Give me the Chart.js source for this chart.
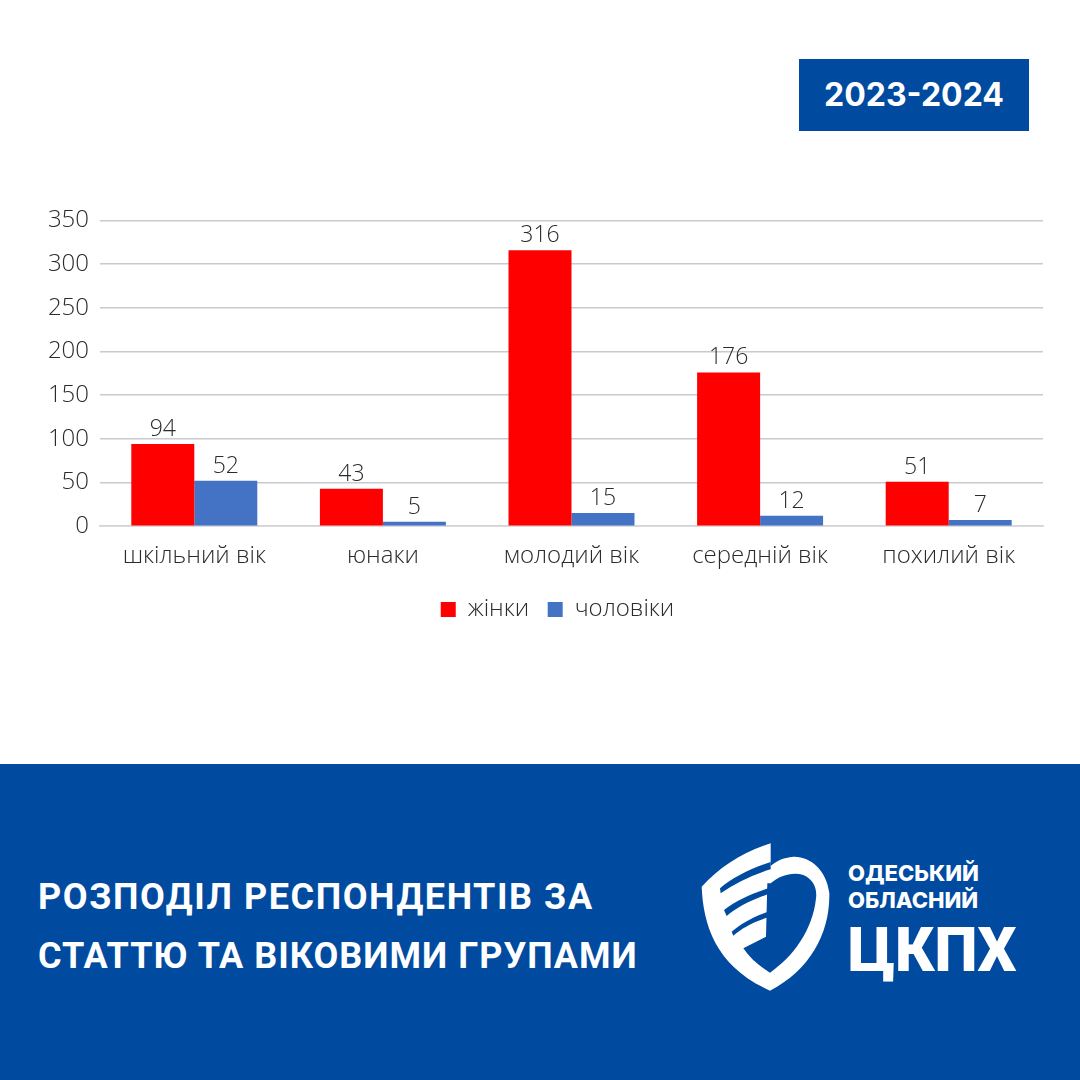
<!DOCTYPE html>
<html lang="uk">
<head>
<meta charset="utf-8">
<script src="https://cdn.jsdelivr.net/npm/chart.js@4"></script>
<style>
html,body{margin:0;padding:0;background:#fff}
#stage{position:relative;width:1080px;height:1080px;overflow:hidden;background:#fff}
#badge{position:absolute;left:799px;top:59px;width:230px;height:72px;background:#004a9f;color:#fff;font:700 32px/72px Inter,Roboto,sans-serif;text-align:center}
#wrap{position:absolute;left:0;top:190px;width:1080px;height:450px}
#footer{position:absolute;left:0;top:764px;width:1080px;height:316px;background:#004a9f}
#title{position:absolute;left:38px;top:104px;color:#fff;font:700 36px/59px Roboto,sans-serif;white-space:nowrap}
#title div:nth-child(1){letter-spacing:1.56px}
#title div:nth-child(2){letter-spacing:1.02px}
#logo{position:absolute;left:680px;top:56px;width:360px;height:190px}
.o{position:absolute;left:168px;color:#fff;font:800 22px/26px Inter,Roboto,sans-serif;white-space:nowrap}
.c{position:absolute;left:168px;top:95px;color:#fff;font:900 61px/70px Roboto,sans-serif;white-space:nowrap}
</style>
</head>
<body>
<div id="stage">
  <div id="badge">2023-2024</div>
  <div id="wrap"><canvas id="chart" width="1080" height="450"></canvas></div>
  <div id="footer">
    <div id="title"><div>РОЗПОДІЛ РЕСПОНДЕНТІВ ЗА</div><div>СТАТТЮ ТА ВІКОВИМИ ГРУПАМИ</div></div>
    <div id="logo">
      <svg width="360" height="190" viewBox="0 0 1080 570">
        <path fill="#fff" d="M272 70C190 95 120 140 65 200C70 320 110 440 270 512C390 450 450 340 448 220C440 150 390 108 340 110C310 112 285 125 272 138Z"/>
        <path fill="#004a9f" d="M272 190C300 165 340 155 370 165C400 178 412 205 408 235C398 330 340 410 270 458C240 440 210 415 190 385L258 350L262 190Z"/>
        <path fill="#004a9f" d="M120 205C160 170 215 145 272 126L272 148C215 165 165 190 122 220Z"/>
        <path fill="#004a9f" d="M132 270C170 240 215 222 265 205L265 222C215 240 170 262 140 288Z"/>
        <path fill="#004a9f" d="M155 335C185 310 220 290 265 275L265 292C220 305 185 325 160 347Z"/>
      </svg>
      <div class="o" style="top:40px">ОДЕСЬКИЙ</div>
      <div class="o" style="top:67px">ОБЛАСНИЙ</div>
      <div class="c">ЦКПХ</div>
    </div>
  </div>
</div>
<script>
const categories = ['шкільний вік', 'юнаки', 'молодий вік', 'середній вік', 'похилий вік'];
const women = [94, 43, 316, 176, 51];
const men = [52, 5, 15, 12, 7];
const womenLabel = 'жінки';
const menLabel = 'чоловіки';
const yTicks = [0, 50, 100, 150, 200, 250, 300, 350];

const FONT = '"Open Sans", "Noto Sans", sans-serif';
const TEXT = '#2b2b2b';

const valueLabels = {
  id: 'valueLabels',
  afterDatasetsDraw(chart) {
    const ctx = chart.ctx;
    ctx.save();
    ctx.font = '300 23px ' + FONT;
    ctx.fillStyle = TEXT;
    ctx.textAlign = 'center';
    ctx.textBaseline = 'alphabetic';
    chart.data.datasets.forEach((ds, i) => {
      chart.getDatasetMeta(i).data.forEach((bar, j) => {
        ctx.fillText(String(ds.data[j]), bar.x, bar.y - 8);
      });
    });
    ctx.restore();
  }
};

const legendShift = {
  id: 'legendShift',
  afterLayout(chart) {
    chart.legend.left += 16;
    chart.legend.right += 16;
  }
};

new Chart(document.getElementById('chart'), {
  type: 'bar',
  data: {
    labels: categories,
    datasets: [
      { label: womenLabel, data: women, backgroundColor: '#ff0000' },
      { label: menLabel, data: men, backgroundColor: '#4472c4' }
    ]
  },
  options: {
    responsive: false,
    animation: false,
    layout: { padding: { left: 40, right: 37, top: 30.5, bottom: 8.5 } },
    datasets: { bar: { categoryPercentage: 0.668, barPercentage: 1 } },
    plugins: {
      tooltip: { enabled: false },
      legend: {
        position: 'bottom',
        labels: { boxWidth: 15, boxHeight: 15, padding: 18.5, color: TEXT, font: { family: FONT, size: 24, weight: 300 } }
      }
    },
    scales: {
      x: {
        grid: { display: false },
        border: { display: true, color: '#d4d4d8', width: 1.5 },
        ticks: { color: TEXT, font: { family: FONT, size: 24, weight: 300 }, padding: 8, maxRotation: 0 }
      },
      y: {
        min: 0,
        max: 350,
        afterBuildTicks(scale) { scale.ticks = yTicks.map(v => ({ value: v })); },
        afterFit(scale) { scale.width = 60; },
        grid: { color: '#c9c9d2', lineWidth: 1.5, drawTicks: false },
        border: { display: false },
        ticks: { color: TEXT, font: { family: FONT, size: 24, weight: 300 }, padding: 11 }
      }
    }
  },
  plugins: [valueLabels, legendShift]
});
</script>
</body>
</html>
